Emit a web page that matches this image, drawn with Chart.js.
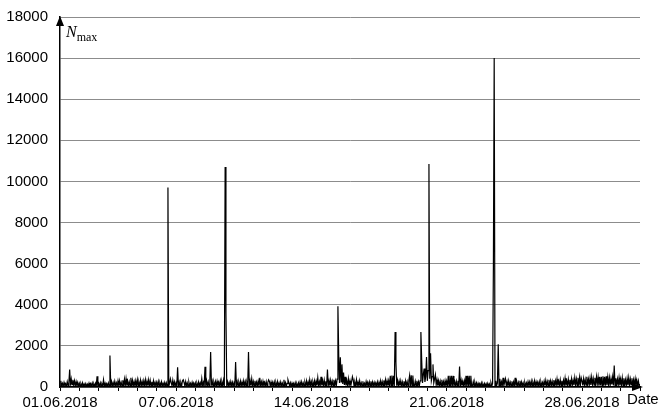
<!DOCTYPE html>
<html>
<head>
<meta charset="utf-8">
<script src="https://cdn.jsdelivr.net/npm/chart.js@4/dist/chart.umd.min.js"></script>
<style>
  html, body { margin: 0; padding: 0; background: #fff; }
  #wrap { width: 659px; height: 415px; position: relative; }
</style>
</head>
<body>
<div id="wrap"><canvas id="c" width="659" height="415"></canvas></div>
<script>
// Hourly maxima from 01.06.2018 00:00 to 01.07.2018 00:00
const samplesPerDay = 24;
const nMax = [
  // 01.06
  30, 300, 50, 180, 40, 220, 60, 150, 40, 260, 70, 200, 850, 60, 380, 120, 350, 90, 300, 60, 260, 50, 220, 40,
  // 02.06
  180, 30, 160, 40, 200, 30, 150, 50, 170, 30, 140, 40, 190, 30, 160, 50, 200, 40, 150, 30, 180, 40, 520, 30,
  // 03.06
  170, 40, 200, 30, 150, 50, 350, 40, 180, 30, 160, 50, 200, 40, 1530, 30, 260, 50, 210, 40, 280, 60, 200, 40,
  // 04.06
  300, 50, 300, 60, 220, 40, 330, 70, 380, 50, 400, 60, 280, 40, 250, 70, 450, 50, 320, 60, 260, 40, 300, 50,
  // 05.06
  350, 60, 230, 50, 330, 70, 260, 40, 300, 60, 350, 50, 280, 70, 340, 40, 310, 60, 250, 50, 300, 60, 220, 40,
  // 06.06
  230, 50, 270, 40, 200, 60, 250, 40, 180, 50, 220, 30, 200, 40, 9700, 30, 180, 400, 220, 60, 330, 40, 250, 50,
  // 07.06
  200, 40, 960, 30, 240, 50, 200, 40, 300, 350, 220, 40, 260, 50, 200, 30, 240, 50, 180, 40, 220, 30, 190, 40,
  // 08.06
  200, 40, 180, 30, 240, 50, 200, 40, 400, 30, 220, 50, 980, 40, 300, 60, 250, 40, 200, 1700, 60, 280, 40, 230,
  // 09.06
  50, 260, 40, 280, 60, 230, 50, 300, 40, 250, 60, 320, 40, 10700, 3600, 40, 250, 60, 220, 40, 260, 50, 230, 40,
  // 10.06
  200, 50, 1220, 40, 260, 60, 220, 40, 280, 50, 240, 60, 300, 40, 260, 50, 220, 40, 1700, 50, 300, 60, 400, 40,
  // 11.06
  260, 50, 300, 60, 240, 50, 280, 40, 450, 60, 250, 40, 280, 60, 220, 50, 260, 40, 230, 350, 270, 40, 240, 50,
  // 12.06
  230, 40, 250, 50, 210, 40, 260, 50, 200, 40, 240, 60, 190, 40, 350, 50, 210, 40, 180, 350, 220, 40, 200, 30,
  // 13.06
  190, 40, 170, 30, 210, 50, 160, 40, 200, 30, 230, 50, 250, 40, 190, 50, 220, 40, 300, 60, 240, 40, 350, 50,
  // 14.06
  260, 50, 240, 60, 300, 50, 280, 70, 450, 60, 260, 50, 500, 80, 300, 60, 340, 70, 280, 60, 850, 70, 300, 60,
  // 15.06
  330, 70, 280, 60, 350, 80, 300, 60, 380, 3930, 1540, 200, 1450, 250, 1100, 150, 700, 100, 500, 80, 300, 60, 400, 80,
  // 16.06
  300, 60, 260, 500, 350, 60, 220, 40, 360, 70, 240, 50, 300, 60, 200, 40, 280, 50, 180, 40, 260, 50, 220, 40,
  // 17.06
  250, 50, 280, 40, 240, 60, 220, 40, 200, 50, 250, 40, 230, 60, 300, 50, 260, 70, 320, 60, 350, 80, 300, 60,
  // 18.06
  300, 60, 550, 40, 560, 50, 550, 40, 2680, 1200, 60, 320, 50, 280, 60, 300, 50, 240, 40, 280, 60, 300, 50, 260,
  // 19.06
  50, 300, 560, 40, 570, 50, 560, 40, 60, 280, 50, 300, 60, 250, 40, 300, 2680, 1300, 200, 600, 900, 250, 500, 1460,
  // 20.06
  300, 800, 10850, 400, 1640, 300, 500, 1100, 200, 400, 600, 100, 350, 60, 300, 50, 280, 60, 350, 40, 260, 60, 300, 50,
  // 21.06
  280, 60, 540, 40, 550, 50, 540, 40, 540, 60, 250, 40, 280, 60, 300, 50, 1000, 50, 320, 60, 280, 50, 300, 60,
  // 22.06
  540, 40, 550, 50, 540, 40, 550, 40, 60, 260, 50, 220, 40, 200, 30, 180, 40, 160, 30, 200, 40, 150, 30, 170,
  // 23.06
  40, 160, 30, 180, 40, 150, 30, 200, 40, 170, 5800, 16000, 40, 300, 60, 200, 2080, 60, 400, 50, 250, 40, 450, 60,
  // 24.06
  250, 400, 50, 260, 40, 300, 60, 220, 40, 280, 50, 240, 40, 450, 60, 260, 40, 220, 50, 300, 40, 240, 50, 200,
  // 25.06
  40, 220, 50, 200, 40, 260, 60, 240, 40, 280, 50, 220, 60, 300, 40, 250, 60, 230, 40, 260, 50, 240, 60, 220,
  // 26.06
  50, 280, 60, 320, 50, 260, 70, 350, 60, 300, 70, 280, 60, 330, 80, 300, 70, 380, 60, 280, 80, 350, 70, 300,
  // 27.06
  70, 320, 80, 420, 70, 300, 90, 380, 80, 350, 100, 400, 80, 330, 90, 450, 100, 380, 80, 450, 60, 460, 80, 450,
  // 28.06
  300, 80, 400, 100, 350, 90, 500, 120, 380, 90, 420, 100, 480, 120, 400, 90, 450, 110, 500, 150, 480, 60, 500, 80,
  // 29.06
  500, 60, 520, 80, 500, 60, 520, 90, 480, 100, 450, 90, 400, 120, 480, 80, 1040, 70, 420, 100, 380, 90, 450, 80,
  // 30.06
  380, 90, 450, 80, 420, 100, 350, 70, 400, 90, 450, 80, 380, 100, 420, 70, 350, 90, 400, 80, 330, 70, 300, 60,
  // 01.07 00:00
  150
];

// Date axis: one tick per day, labelled days (offset from 01.06.2018)
const labelDays = [0, 6, 13, 20, 27];
const dateLabels = ['01.06.2018', '07.06.2018', '14.06.2018', '21.06.2018', '28.06.2018'];
const totalDays = 30;

// Value axis
const yMin = 0, yMax = 18000, yStep = 2000;

const points = nMax.map((v, i) => ({ x: i / samplesPerDay, y: v }));

const FONT = '"Liberation Sans", Arial, sans-serif';

// Axis arrows and axis names
const axisDecor = {
  id: 'axisDecor',
  afterDraw(chart) {
    const { ctx, chartArea: a } = chart;
    ctx.save();
    ctx.fillStyle = '#000';
    // arrow on the value axis
    ctx.beginPath();
    ctx.moveTo(a.left, a.top - 1);
    ctx.lineTo(a.left - 4, a.top + 9);
    ctx.lineTo(a.left + 4, a.top + 9);
    ctx.closePath();
    ctx.fill();
    // arrow on the date axis
    ctx.beginPath();
    ctx.moveTo(a.right + 3, a.bottom);
    ctx.lineTo(a.right - 8, a.bottom - 4);
    ctx.lineTo(a.right - 8, a.bottom + 4);
    ctx.closePath();
    ctx.fill();
    // N_max
    ctx.textBaseline = 'alphabetic';
    ctx.textAlign = 'left';
    ctx.font = 'italic 16px "Liberation Serif", "Times New Roman", serif';
    ctx.fillText('N', a.left + 6, a.top + 20);
    const nw = ctx.measureText('N').width;
    ctx.font = '12px "Liberation Serif", "Times New Roman", serif';
    ctx.fillText('max', a.left + 6 + nw, a.top + 24);
    // Date
    ctx.font = '15px ' + FONT;
    ctx.fillText('Date', a.right - 13, a.bottom + 17);
    ctx.restore();
  }
};

new Chart(document.getElementById('c'), {
  type: 'line',
  data: {
    datasets: [{
      data: points,
      borderColor: '#000',
      borderWidth: 1.2,
      pointRadius: 0,
      tension: 0,
      fill: false
    }]
  },
  options: {
    responsive: false,
    animation: false,
    layout: { padding: { top: 17, right: 19, left: 0, bottom: 0 } },
    plugins: { legend: { display: false }, tooltip: { enabled: false } },
    scales: {
      x: {
        type: 'linear',
        min: 0,
        max: totalDays,
        afterFit(s) { s.height = 28; s.paddingLeft = 0; s.paddingRight = 0; },
        border: { color: '#000', width: 1.5 },
        grid: { drawOnChartArea: false, drawTicks: true, tickLength: 4, color: '#000', lineWidth: 1 },
        ticks: {
          stepSize: 1,
          autoSkip: false,
          maxRotation: 0,
          minRotation: 0,
          padding: 3,
          color: '#000',
          font: { family: FONT, size: 15 },
          callback(v) {
            const k = labelDays.indexOf(Math.round(v));
            return k >= 0 ? dateLabels[k] : '';
          }
        }
      },
      y: {
        min: yMin,
        max: yMax,
        afterFit(s) { s.width = 60; s.paddingTop = 0; s.paddingBottom = 0; },
        border: { color: '#000', width: 1.5 },
        grid: { color: '#8c8c8c', lineWidth: 1, drawTicks: false },
        ticks: {
          stepSize: yStep,
          padding: 12,
          color: '#000',
          font: { family: FONT, size: 15 },
          callback(v) { return String(v); }
        }
      }
    }
  },
  plugins: [axisDecor]
});
</script>
</body>
</html>
